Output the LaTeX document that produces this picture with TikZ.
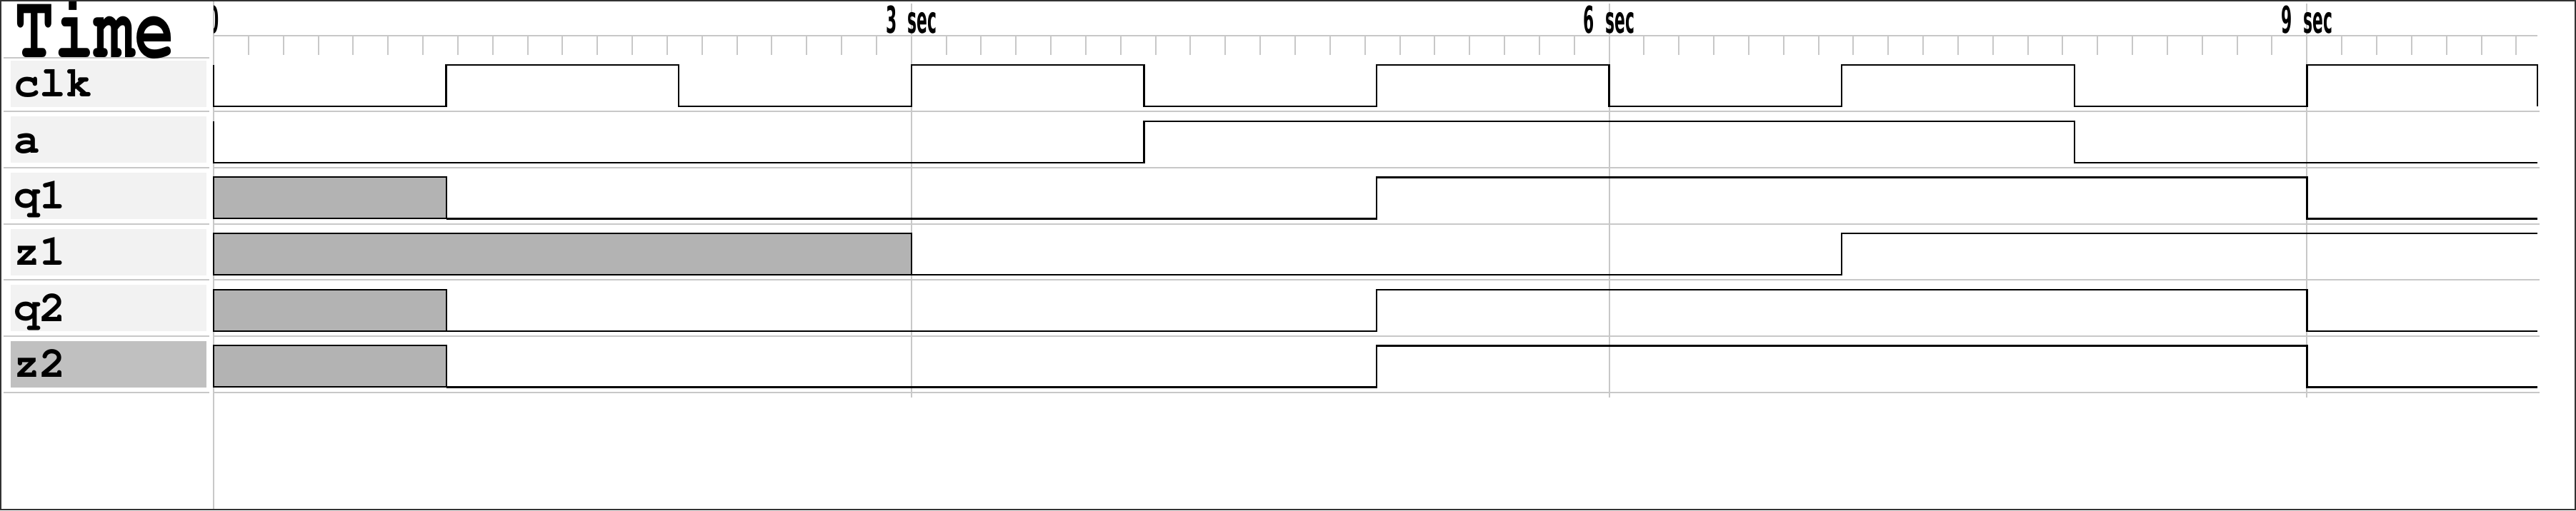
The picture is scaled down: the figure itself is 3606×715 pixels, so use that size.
\documentclass[tikz,border=0pt]{standalone}
\usepackage[T1]{fontenc}
\usepackage{fontspec}
\newfontfamily\axisfamily{DejaVu Sans}
\definecolor{gridgray}{RGB}{200,200,200}
\definecolor{lblgray}{RGB}{242,242,242}
\definecolor{selgray}{RGB}{192,192,192}
\definecolor{unkgray}{RGB}{179,179,179}
\definecolor{bordergray}{RGB}{50,50,50}
\newcommand\lblfont{\fontencoding{T1}\fontfamily{pcr}\fontseries{b}\fontshape{n}\fontsize{61}{61}\selectfont}
\newcommand\bigfont{\fontencoding{T1}\fontfamily{pcr}\fontseries{b}\fontshape{n}\fontsize{127.6}{127.6}\selectfont}
\newcommand\axl[1]{\scalebox{0.42}[1]{\axisfamily\bfseries\fontsize{52}{52}\selectfont #1}}
\begin{document}
\begin{tikzpicture}[x=1pt,y=-1pt,
  sepline/.style={draw=gridgray,line width=2pt},
  tickline/.style={draw=gridgray,line width=2pt},
  gridline/.style={draw=gridgray,line width=2pt},
  colline/.style={draw=gridgray,line width=1.5pt},
  wave/.style={draw=black,line width=2.3pt},
  unk/.style={draw=black,fill=unkgray,line width=2pt},
  lblbox/.style={fill=lblgray},
  selbox/.style={fill=selgray},
  lbl/.style={anchor=base west,inner sep=0pt,font=\lblfont},
  axislbl/.style={anchor=base,inner sep=0pt}]
\useasboundingbox (0,0) rectangle (3606,715);
\fill[white] (0,0) rectangle (3606,715);
% label column vertical line (time 0)
\draw[colline] (299,0) -- (299,715);
% ruler
\draw[sepline] (299,50) -- (3552,50);
\begin{scope}[xshift=299pt,x=325.6pt]
  \foreach \k in {1,...,66} \draw[tickline] ({0.15*\k},50) -- ({0.15*\k},77);
  \foreach \t in {3,6,9} \draw[gridline] (\t,5) -- (\t,557);
  \begin{scope}
    \clip (0,0) rectangle (10,60);
    \node[axislbl] (t0) at (0,46.7) {\axl{0}};
  \end{scope}
  \node[axislbl] (t3) at (3,46.7) {\axl{3\hspace{0.71em}sec}};
  \node[axislbl] (t6) at (6,46.7) {\axl{6\hspace{0.71em}sec}};
  \node[axislbl] (t9) at (9,46.7) {\axl{9\hspace{0.71em}sec}};
\end{scope}
% separators
\foreach \y in {80.7,156.3,234.95,313.6,392.25,470.9,549.55} \draw[sepline] (5,\y) -- (293,\y);
\foreach \y in {156.3,234.95,313.6,392.25,470.9,549.55} \draw[sepline] (300,\y) -- (3555,\y);
% Time title
\node[anchor=base west,inner sep=0pt] (time) at (20.6,80) {\scalebox{0.728}[1]{\bigfont Time}};
% row clk
\begin{scope}[yshift=-77.65pt]
  \fill[lblbox] (15,7) rectangle (289,72);
  \node[lbl] (lclk) at (19,58) {clk};
  \begin{scope}[xshift=299pt,x=325.6pt]
    \draw[wave] (0,13.5) -- (0,71.5) -- (1,71.5) -- (1,13.5) -- (2,13.5) -- (2,71.5) -- (3,71.5) -- (3,13.5) -- (4,13.5) -- (4,71.5) -- (5,71.5) -- (5,13.5) -- (6,13.5) -- (6,71.5) -- (7,71.5) -- (7,13.5) -- (8,13.5) -- (8,71.5) -- (9,71.5) -- (9,13.5) -- (9.99,13.5) -- (9.99,71.5);
  \end{scope}
\end{scope}
% row a
\begin{scope}[yshift=-156.3pt]
  \fill[lblbox] (15,7) rectangle (289,72);
  \node[lbl] (la) at (19,58) {a};
  \begin{scope}[xshift=299pt,x=325.6pt]
    \draw[wave] (0,13.5) -- (0,71.5) -- (4,71.5) -- (4,13.5) -- (8,13.5) -- (8,71.5) -- (9.99,71.5);
  \end{scope}
\end{scope}
% row q1
\begin{scope}[yshift=-234.95pt]
  \fill[lblbox] (15,7) rectangle (289,72);
  \node[lbl] (lq1) at (19,58) {q1};
  \begin{scope}[xshift=299pt,x=325.6pt]
    \draw[unk] (0,13.5) rectangle (1,71.5);
    \draw[wave] (1,71.5) -- (5,71.5) -- (5,13.5) -- (9,13.5) -- (9,71.5) -- (9.99,71.5);
  \end{scope}
\end{scope}
% row z1
\begin{scope}[yshift=-313.6pt]
  \fill[lblbox] (15,7) rectangle (289,72);
  \node[lbl] (lz1) at (19,58) {z1};
  \begin{scope}[xshift=299pt,x=325.6pt]
    \draw[unk] (0,13.5) rectangle (3,71.5);
    \draw[wave] (3,71.5) -- (7,71.5) -- (7,13.5) -- (9.99,13.5);
  \end{scope}
\end{scope}
% row q2
\begin{scope}[yshift=-392.25pt]
  \fill[lblbox] (15,7) rectangle (289,72);
  \node[lbl] (lq2) at (19,58) {q2};
  \begin{scope}[xshift=299pt,x=325.6pt]
    \draw[unk] (0,13.5) rectangle (1,71.5);
    \draw[wave] (1,71.5) -- (5,71.5) -- (5,13.5) -- (9,13.5) -- (9,71.5) -- (9.99,71.5);
  \end{scope}
\end{scope}
% row z2
\begin{scope}[yshift=-470.9pt]
  \fill[selbox] (15,7) rectangle (289,72);
  \node[lbl] (lz2) at (19,58) {z2};
  \begin{scope}[xshift=299pt,x=325.6pt]
    \draw[unk] (0,13.5) rectangle (1,71.5);
    \draw[wave] (1,71.5) -- (5,71.5) -- (5,13.5) -- (9,13.5) -- (9,71.5) -- (9.99,71.5);
  \end{scope}
\end{scope}
% outer border
\draw[draw=bordergray,line width=2pt] (1,1) rectangle (3604.5,713.5);
\end{tikzpicture}
\end{document}
